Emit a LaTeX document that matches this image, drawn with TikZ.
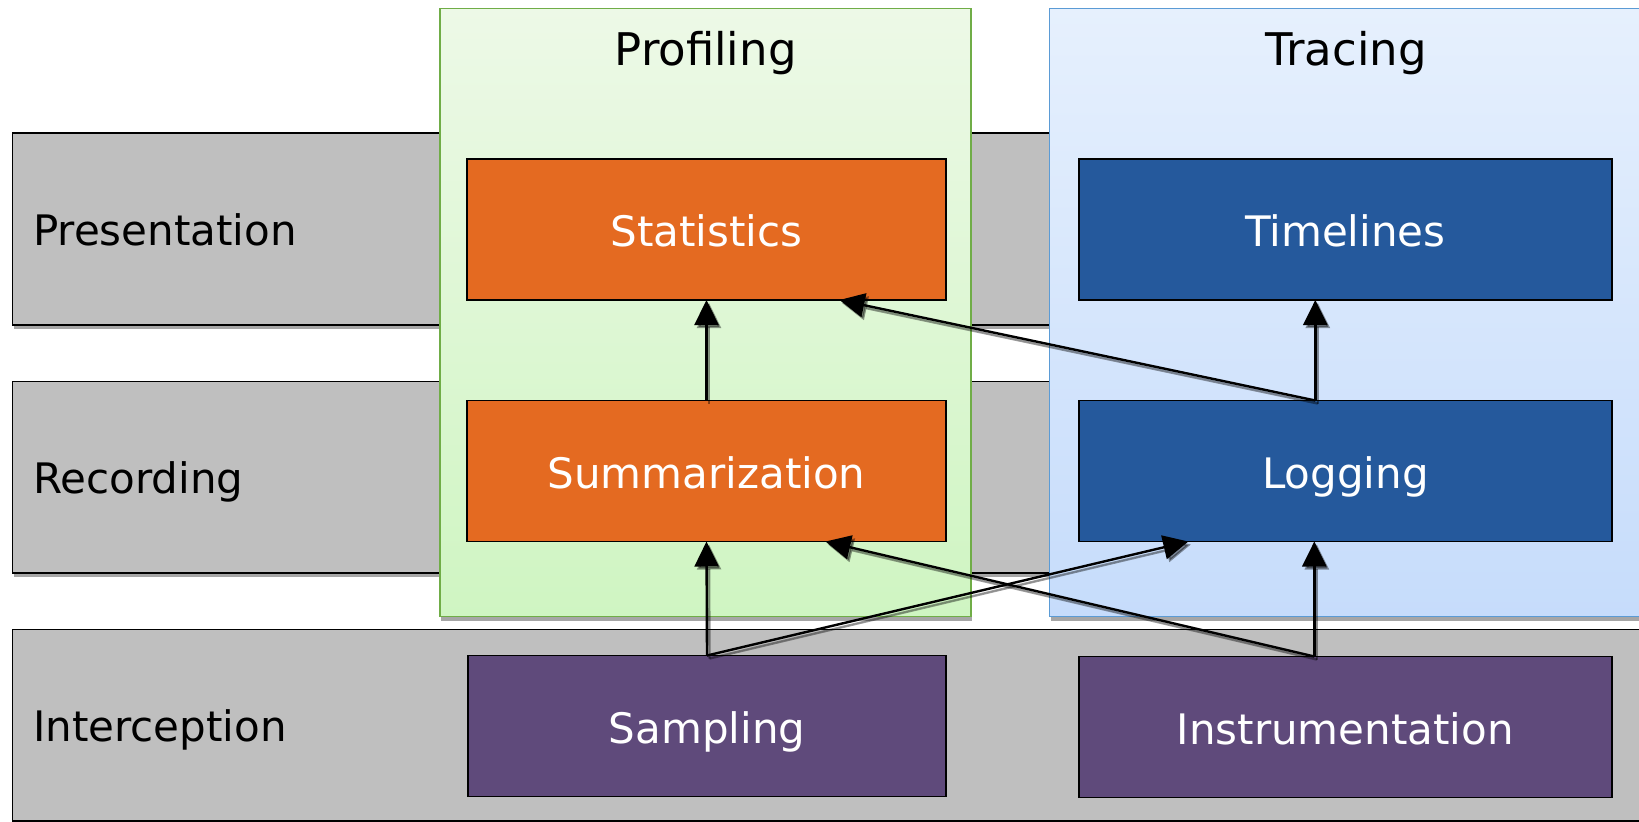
\documentclass[tikz,border=0pt]{standalone}
\usepackage{fontspec}
\setmainfont{DejaVu Sans}
\usetikzlibrary{shadows,arrows.meta}
\definecolor{bandgray}{HTML}{BFBFBF}
\definecolor{orng}{HTML}{E46A21}
\definecolor{blu}{HTML}{25599C}
\definecolor{purp}{HTML}{5F4A7B}
\definecolor{grntop}{HTML}{EDF9E7}
\definecolor{grnbot}{HTML}{CFF5C2}
\definecolor{grnline}{HTML}{70AD47}
\definecolor{blutop}{HTML}{E6F0FD}
\definecolor{blubot}{HTML}{C6DCFB}
\definecolor{bluline}{HTML}{5B9BD5}
\begin{document}
\begin{tikzpicture}[x=1pt,y=-1pt,
  band/.style={draw=black, line width=1.6pt, fill=bandgray, inner sep=0pt, outer sep=0pt,
    minimum width=1647.5pt, anchor=north west,
    drop shadow={shadow xshift=1pt, shadow yshift=-4pt, fill=black, opacity=0.35}},
  group/.style={line width=1.5pt, inner sep=0pt, outer sep=0pt, anchor=north west,
    minimum height=608.3pt,
    drop shadow={shadow xshift=1pt, shadow yshift=-4pt, fill=black, opacity=0.35}},
  box/.style={draw=black, line width=1.6pt, inner sep=0pt, outer sep=0pt,
    minimum height=141pt, text=white, font=\fontsize{42}{50}\selectfont,
    text height=34pt, text depth=0pt},
  obox/.style={box, fill=orng, minimum width=479pt},
  bbox/.style={box, fill=blu, minimum width=533pt},
  pbox/.style={box, fill=purp},
  lbl/.style={anchor=west, inner sep=0pt, font=\fontsize{42}{50}\selectfont,
    text height=30.6pt, text depth=0pt},
  ttl/.style={inner sep=0pt, font=\fontsize{45}{54}\selectfont,
    text height=32.8pt, text depth=0pt},
  conn/.style={-{Triangle[length=25pt,width=24pt]}, line width=2.4pt},
  connshadow/.style={conn, draw=black, fill=black, opacity=0.4}
]
\useasboundingbox (0,0) rectangle (1639,822);
\clip (0,0) rectangle (1639,822);
\fill[white] (0,0) rectangle (1639,822);

% layer bands
\node[band, minimum height=192.3pt] (band1) at (12.5,132.7) {};
\node[band, minimum height=191.3pt] (band2) at (12.5,381.5) {};
\node[band, minimum height=191.7pt] (band3) at (12.5,629.3) {};
\node[lbl] (lpres) at (33,230) {Presentation};
\node[lbl] (lrec) at (33,478) {Recording};
\node[lbl] (lint) at (33,726) {Interception};

% groups
\node[group, draw=grnline, top color=grntop, bottom color=grnbot, minimum width=531pt] (prof) at (440,8.4) {};
\node[group, draw=bluline, top color=blutop, bottom color=blubot, minimum width=620pt] (trac) at (1049.5,8.4) {};
\node[ttl] (tprof) at (705.6,49) {Profiling};
\node[ttl] (ttrac) at (1346,49) {Tracing};

% boxes
\node[obox] (stat) at (706.5,229.5) {Statistics};
\node[obox] (summ) at (706.5,471) {Summarization};
\node[pbox, minimum width=478pt] (samp) at (707,726) {Sampling};
\node[bbox] (time) at (1345.3,229.5) {Timelines};
\node[bbox] (log) at (1345.3,471) {Logging};
\node[bbox, fill=purp] (inst) at (1345.3,727) {Instrumentation};

% connector shadows
\begin{scope}[transform canvas={shift={(2.5pt,-3pt)}}]
\draw[connshadow] (summ.north) -- (stat.south);
\draw[connshadow] ([xshift=-30pt]log.north) -- ([xshift=-30pt]time.south);
\draw[connshadow] ([xshift=-30pt]log.north) -- ([xshift=133pt]stat.south);
\draw[connshadow] (samp.north) -- (summ.south);
\draw[connshadow] (samp.north) -- ([xshift=-157pt]log.south);
\draw[connshadow] ([xshift=-31pt]inst.north) -- ([xshift=-31pt]log.south);
\draw[connshadow] ([xshift=-31pt]inst.north) -- ([xshift=119pt]summ.south);
\end{scope}
% connectors
\draw[conn] (summ.north) -- (stat.south);
\draw[conn] ([xshift=-30pt]log.north) -- ([xshift=-30pt]time.south);
\draw[conn] ([xshift=-30pt]log.north) -- ([xshift=133pt]stat.south);
\draw[conn] (samp.north) -- (summ.south);
\draw[conn] (samp.north) -- ([xshift=-157pt]log.south);
\draw[conn] ([xshift=-31pt]inst.north) -- ([xshift=-31pt]log.south);
\draw[conn] ([xshift=-31pt]inst.north) -- ([xshift=119pt]summ.south);
\end{tikzpicture}
\end{document}
